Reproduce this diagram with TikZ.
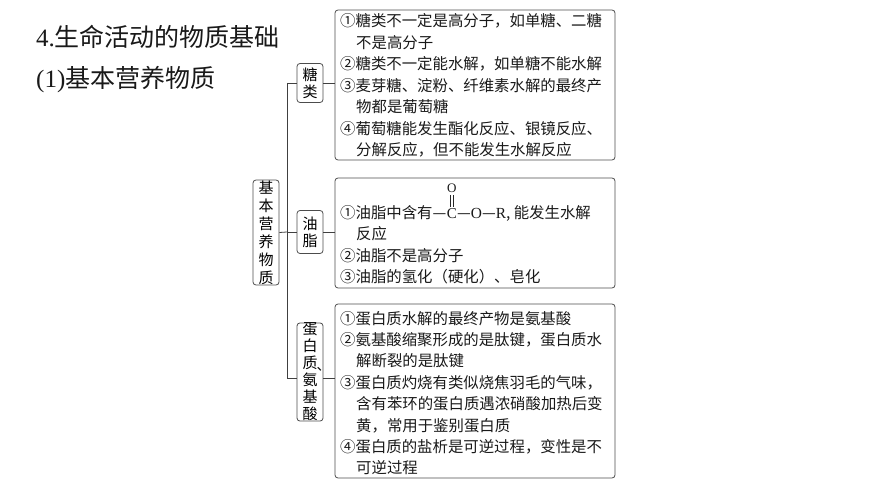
\documentclass[tikz,border=0pt]{standalone}
\usepackage{fontspec}
\usetikzlibrary{calc}
\setmainfont{Liberation Serif}
\newfontfamily\cjk{Noto Sans CJK SC}
\begin{document}
\begin{tikzpicture}[x=1pt,y=-1pt,
  bx/.style={draw=black!70,line width=0.8pt,rounded corners=3pt,inner sep=0pt},
  sm/.style={bx,minimum width=26pt,font=\cjk\fontsize{15}{17}\selectfont,align=center},
  ln/.style={anchor=west,inner sep=0pt,font=\cjk\fontsize{15.4}{16}\selectfont,text=black!90},
  ti/.style={anchor=west,inner sep=0pt,font=\fontsize{25}{28}\selectfont,text=black!90},
  con/.style={draw=black!75,line width=0.8pt}]
\useasboundingbox (0,0) rectangle (870,489);
\node[ti] (t1) at (36,37) {4.{\cjk 生命活动的物质基础}};
\node[ti] (t2) at (36,80) {(1){\cjk 基本营养物质}};
% boxes
\node[bx,minimum width=26pt,minimum height=105pt,font=\cjk\fontsize{15}{18}\selectfont,align=center] (root) at (266,232.5) {基\\本\\营\\养\\物\\质};
\node[sm,minimum height=88pt] (s3) at (310,372) {蛋\\白\\质\\氨\\基\\酸};
\node[sm,minimum height=39pt] (s1) at (310,83) {糖\\类};
\node[sm,minimum height=43pt] (s2) at (310,232) {油\\脂};
\node[anchor=west,inner sep=0pt,font=\cjk\fontsize{14}{14}\selectfont,text=black] (dun) at (316.5,369) {、};
\node[bx,minimum width=280pt,minimum height=150pt] (b1) at (475,85) {};
\node[bx,minimum width=280pt,minimum height=110pt] (b2) at (475,233) {};
\node[bx,minimum width=280pt,minimum height=174pt] (b3) at (475,391) {};
\coordinate (top) at (287,83);
\coordinate (bot) at (287,378);
\coordinate (mid) at (287,232);
\draw[con] (top) -- (bot);
\draw[con] (top) -- (s1.west);
\draw[con] (mid) -- (s2.west);
\draw[con] (root.east) -- (mid);
\draw[con] (bot) -- (s3.west |- bot);
\draw[con] (s1.east) -- (b1.west |- s1.east);
\draw[con] (s2.east) -- (b2.west |- s2.east);
\draw[con] (s3.east |- bot) -- (b3.west |- bot);
% box1 text
\node[ln] (a1) at (340,21) {①糖类不一定是高分子，如单糖、二糖};
\node[ln] (a2) at (356,43) {不是高分子};
\node[ln] (a3) at (340,64) {②糖类不一定能水解，如单糖不能水解};
\node[ln] (a4) at (340,86) {③麦芽糖、淀粉、纤维素水解的最终产};
\node[ln] (a5) at (356,107) {物都是葡萄糖};
\node[ln] (a6) at (340,129) {④葡萄糖能发生酯化反应、银镜反应、};
\node[ln] (a7) at (356,150) {分解反应，但不能发生水解反应};
% box2 text
\node[ln] (c1) at (340,213) {①油脂中含有—};
\node[ln,anchor=base west,font=\fontsize{15}{16}\selectfont] (cC) at (c1.base east) {C};
\node[ln,anchor=base west] (c2) at (cC.base east) {—{\rmfamily O}—{\rmfamily R}, 能发生水解};
\node[inner sep=0pt,font=\fontsize{13}{14}\selectfont,text=black!90] (cO) at ($(cC.north)+(0,-20)$) {O};
\draw[black!85,line width=0.6pt] ($(cO.south)+(-1.4,1.5)$) -- ($(cC.north)+(-1.4,-1.5)$) ($(cO.south)+(1.4,1.5)$) -- ($(cC.north)+(1.4,-1.5)$);
\node[ln] (c3) at (356,234) {反应};
\node[ln] (c4) at (340,256) {②油脂不是高分子};
\node[ln] (c5) at (340,277) {③油脂的氢化（硬化）、皂化};
% box3 text
\node[ln] (d1) at (340,319) {①蛋白质水解的最终产物是氨基酸};
\node[ln] (d2) at (340,340) {②氨基酸缩聚形成的是肽键，蛋白质水};
\node[ln] (d3) at (356,361) {解断裂的是肽键};
\node[ln] (d4) at (340,383) {③蛋白质灼烧有类似烧焦羽毛的气味，};
\node[ln] (d5) at (356,404) {含有苯环的蛋白质遇浓硝酸加热后变};
\node[ln] (d6) at (356,426) {黄，常用于鉴别蛋白质};
\node[ln] (d7) at (340,447) {④蛋白质的盐析是可逆过程，变性是不};
\node[ln] (d8) at (356,468) {可逆过程};
\end{tikzpicture}
\end{document}
